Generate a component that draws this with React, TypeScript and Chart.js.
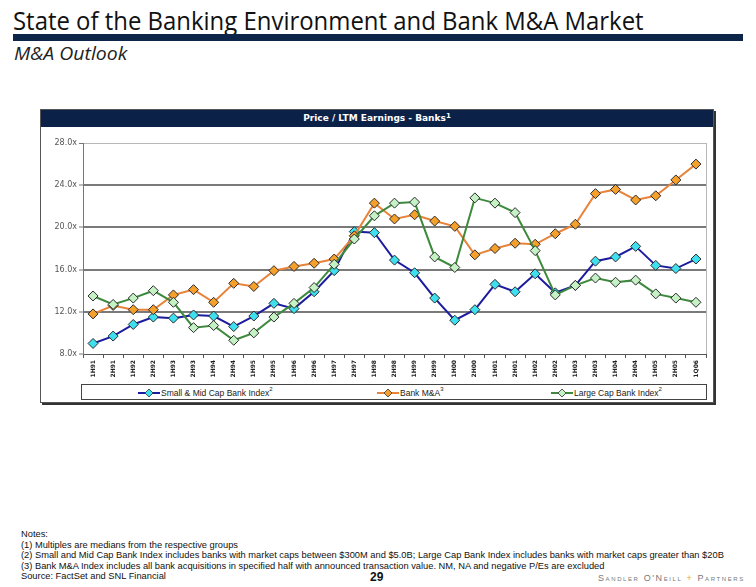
import React, { useEffect, useRef } from "react";
import { Chart, registerables } from "chart.js";

Chart.register(...registerables);

const periods = ["1H91","2H91","1H92","2H92","1H93","2H93","1H94","2H94","1H95","2H95","1H96","2H96","1H97","2H97","1H98","2H98","1H99","2H99","1H00","2H00","1H01","2H01","1H02","2H02","1H03","2H03","1H04","2H04","1H05","2H05","1Q06"];
const smallMidCap = [9.0, 9.7, 10.8, 11.5, 11.4, 11.7, 11.6, 10.6, 11.6, 12.8, 12.3, 13.9, 15.9, 19.6, 19.5, 16.9, 15.7, 13.3, 11.2, 12.2, 14.6, 13.9, 15.6, 13.8, 14.5, 16.8, 17.2, 18.2, 16.4, 16.1, 17.0];
const bankMA = [11.8, 12.6, 12.2, 12.2, 13.6, 14.1, 12.9, 14.7, 14.4, 15.9, 16.3, 16.6, 17.0, 19.2, 22.3, 20.8, 21.2, 20.6, 20.1, 17.4, 18.0, 18.5, 18.4, 19.4, 20.3, 23.2, 23.6, 22.6, 23.0, 24.5, 26.0];
const largeCap = [13.5, 12.7, 13.3, 14.0, 12.9, 10.5, 10.7, 9.3, 10.0, 11.5, 12.8, 14.3, 16.5, 18.9, 21.1, 22.3, 22.4, 17.2, 16.2, 22.8, 22.3, 21.4, 17.8, 13.6, 14.5, 15.2, 14.8, 15.0, 13.7, 13.3, 12.9];
const yMin = 8;
const yMax = 28;
const yStep = 4;

const seriesNames = ["Small & Mid Cap Bank Index", "Bank M&A", "Large Cap Bank Index"];
const seriesNotes = ["2", "3", "2"];
const lineColors = ["#1c1c9e", "#e8833a", "#3d8a3d"];
const markerColors = ["#3ee0f0", "#f5a02a", "#c4f2c4"];

const noteLines = [
  "Notes:",
  "(1) Multiples are medians from the respective groups",
  "(2) Small and Mid Cap Bank Index includes banks with market caps between $300M and $5.0B; Large Cap Bank Index includes banks with market caps greater than $20B",
  "(3) Bank M&A Index includes all bank acquisitions in specified half with announced transaction value.  NM, NA and negative P/Es are excluded",
  "Source: FactSet and SNL Financial",
];

const frameRight = {
  id: "frameRight",
  beforeDatasetsDraw(chart: any) {
    const { ctx, chartArea } = chart;
    ctx.save();
    ctx.strokeStyle = "#b8b8b8";
    ctx.lineWidth = 1;
    ctx.beginPath();
    ctx.moveTo(chartArea.right + 0.5, chartArea.top);
    ctx.lineTo(chartArea.right + 0.5, chartArea.bottom);
    ctx.stroke();
    ctx.restore();
  },
};

function LegendMark({ line, fill }: { line: string; fill: string }) {
  return (
    <svg width={22} height={10} style={{ verticalAlign: "middle", marginRight: 1 }}>
      <line x1={0} y1={5} x2={22} y2={5} stroke={line} strokeWidth={2} />
      <polygon points="11,1 15,5 11,9 7,5" fill={fill} stroke="#333" strokeWidth={0.8} />
    </svg>
  );
}

export default function App() {
  const canvasRef = useRef<HTMLCanvasElement | null>(null);

  useEffect(() => {
    const canvas = canvasRef.current;
    if (!canvas) return;
    const data = [smallMidCap, bankMA, largeCap];
    const orders = [2, 1, 0];
    const chart = new Chart(canvas, {
      type: "line",
      data: {
        labels: periods,
        datasets: data.map((d, i) => ({
          label: seriesNames[i],
          data: d,
          borderColor: lineColors[i],
          backgroundColor: markerColors[i],
          borderWidth: 2,
          pointStyle: "rectRot",
          pointRadius: 5,
          pointBackgroundColor: markerColors[i],
          pointBorderColor: "#2a2a2a",
          pointBorderWidth: 1,
          tension: 0,
          order: orders[i],
        })),
      },
      options: {
        responsive: false,
        animation: false,
        devicePixelRatio: 1,
        layout: { padding: { top: 16, right: 7, left: 0, bottom: 0 } },
        plugins: {
          legend: { display: false },
          tooltip: { enabled: false },
          title: { display: false },
        },
        scales: {
          x: {
            type: "category",
            offset: true,
            afterFit: (s: any) => { s.height = 29; },
            grid: {
              display: true,
              drawOnChartArea: false,
              drawTicks: true,
              tickLength: 4,
              offset: true,
              color: "#555",
            },
            border: { display: true, color: "#555", width: 1 },
            ticks: {
              autoSkip: false,
              maxRotation: 90,
              minRotation: 90,
              padding: 2,
              color: "#222",
              font: { family: "'DejaVu Sans', sans-serif", size: 6, weight: "bold" },
            },
          },
          y: {
            min: yMin,
            max: yMax,
            afterFit: (s: any) => { s.width = 42; },
            grid: {
              color: (c: any) => (c.tick && c.tick.value === yMax ? "#b8b8b8" : c.tick && c.tick.value === yMin ? "rgba(0,0,0,0)" : "#7a7a7a"),
              lineWidth: (c: any) => (c.tick && c.tick.value === yMax ? 1 : 2),
              tickColor: "#777",
              tickWidth: 1,
              tickLength: 4,
            },
            border: { display: true, color: "#777", width: 1 },
            ticks: {
              stepSize: yStep,
              padding: 2,
              color: "#555",
              font: { family: "'DejaVu Sans', sans-serif", size: 8 },
              callback: (v: any) => Number(v).toFixed(1) + "x",
            },
          },
        },
      },
      plugins: [frameRight],
    });
    return () => chart.destroy();
  }, []);

  const sans = "'Liberation Sans', Arial, sans-serif";

  return (
    <div style={{ position: "absolute", left: 0, top: 0, width: 756, height: 587, background: "#fff", overflow: "hidden", fontFamily: sans }}>
      <div style={{ position: "absolute", left: 13, top: 5, whiteSpace: "nowrap", fontFamily: "'Open Sans', sans-serif", fontSize: 26, lineHeight: "30px", color: "#111", transformOrigin: "0 0", transform: "scaleX(0.92)" }}>
        State of the Banking Environment and Bank M&amp;A Market
      </div>
      <div style={{ position: "absolute", left: 13, top: 34, width: 730, height: 7, background: "#0c2548" }} />
      <div style={{ position: "absolute", left: 14, top: 42, whiteSpace: "nowrap", fontFamily: "'Open Sans', sans-serif", fontStyle: "italic", fontSize: 18, lineHeight: "22px", color: "#222", transformOrigin: "0 0", transform: "scaleX(1.08)" }}>
        M&amp;A Outlook
      </div>

      <div style={{ position: "absolute", left: 40, top: 109, width: 672, height: 292, border: "1px solid #555", boxShadow: "2px 2px 0 #333", background: "#fff" }} />
      <div style={{ position: "absolute", left: 41, top: 110, width: 672, height: 17, background: "#0b2147", color: "#fff", textAlign: "center", fontFamily: "'DejaVu Sans', sans-serif", fontWeight: "bold", fontSize: 9, lineHeight: "17px" }}>
        Price / LTM Earnings - Banks<sup style={{ fontSize: 7, verticalAlign: "top", lineHeight: "12px" }}>1</sup>
      </div>
      <canvas ref={canvasRef} width={672} height={256} style={{ position: "absolute", left: 41, top: 127, width: 672, height: 256 }} />

      <div style={{ position: "absolute", left: 81, top: 384, width: 624, height: 14, border: "1px solid #444", fontSize: 8.5, lineHeight: "14px", color: "#222" }}>
        {seriesNames.map((n, i) => (
          <div key={n} style={{ position: "absolute", left: [56, 295, 469][i], top: 0, whiteSpace: "nowrap" }}>
            <LegendMark line={lineColors[i]} fill={markerColors[i]} />
            <span style={{ verticalAlign: "middle" }}>{n}</span>
            <sup style={{ fontSize: 6, verticalAlign: "top", lineHeight: "8px" }}>{seriesNotes[i]}</sup>
          </div>
        ))}
      </div>

      {noteLines.map((t, i) => (
        <div key={i} style={{ position: "absolute", left: 21, top: 529 + i * 10.6, whiteSpace: "nowrap", fontSize: 9.3, lineHeight: "11px", color: "#111" }}>
          {t}
        </div>
      ))}
      <div style={{ position: "absolute", left: 370, top: 570, fontSize: 12, fontWeight: "bold", lineHeight: "14px", color: "#111" }}>29</div>
      <div style={{ position: "absolute", left: 598, top: 573, whiteSpace: "nowrap", fontSize: 9, lineHeight: "11px", letterSpacing: 1.6, color: "#777", fontVariant: "small-caps" }}>
        Sandler O'Neill <span style={{ color: "#e0a060" }}>+</span> Partners
      </div>
    </div>
  );
}
